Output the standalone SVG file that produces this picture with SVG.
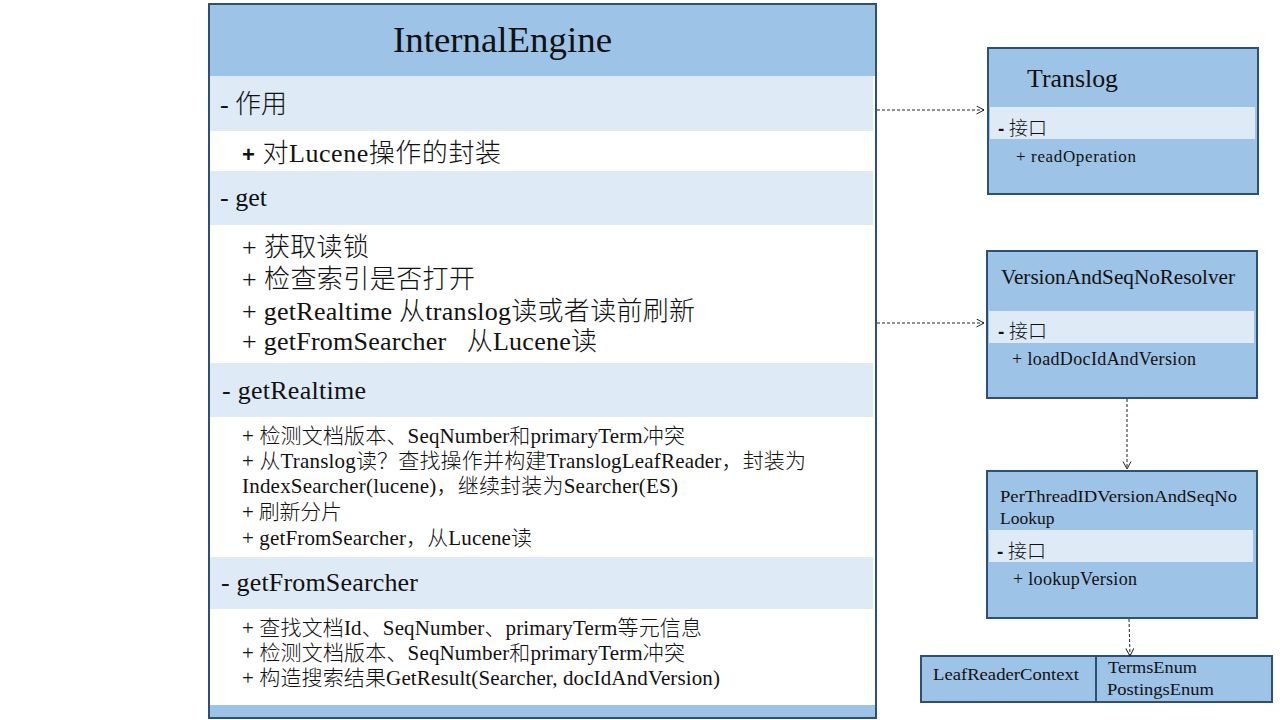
<svg xmlns="http://www.w3.org/2000/svg" width="1280" height="720" viewBox="0 0 1280 720">
<defs>
<style>
.t{font-family:"Liberation Serif","Noto Sans CJK SC",serif;fill:#111;font-weight:300;}
.l{font-size:26px;}
.s{font-size:21px;}
.b{font-family:"Liberation Sans","Noto Sans CJK SC",sans-serif;font-weight:bold;}
.box{stroke:#2E5077;stroke-width:2;}
.hdr{fill:#9DC3E6;}
.band{fill:#DEEBF7;}
.conn{fill:none;stroke:#222;stroke-width:1;stroke-dasharray:3,2;}
</style>
<marker id="arr" markerUnits="userSpaceOnUse" markerWidth="10" markerHeight="10" refX="8" refY="4.5" orient="auto">
<path d="M0.5,0.5 L8,4.5 L0.5,8.5" fill="none" stroke="#222" stroke-width="1"/>
</marker>
</defs>
<rect width="1280" height="720" fill="#fff"/>

<g id="InternalEngine">
<rect class="box" x="209" y="4" width="667" height="714" fill="#fff"/>
<rect class="hdr" x="210" y="5" width="665" height="71"/>
<rect class="band" x="210" y="76" width="663" height="55"/>
<rect class="band" x="210" y="171" width="663" height="54"/>
<rect class="band" x="210" y="363" width="663" height="54"/>
<rect class="band" x="210" y="557" width="663" height="52"/>
<rect class="hdr" x="210" y="705" width="665" height="12"/>
<text class="t" x="393" y="52" font-size="36" textLength="219" lengthAdjust="spacingAndGlyphs">InternalEngine</text>
<text class="t l" x="220" y="113" textLength="67" lengthAdjust="spacing">- 作用</text>
<text class="t l" x="242" y="162" textLength="259" lengthAdjust="spacing"><tspan class="b" font-size="22">+</tspan> 对Lucene操作的封装</text>
<text class="t l" x="220" y="206" textLength="47" lengthAdjust="spacing">- get</text>
<text class="t l" x="242" y="256" textLength="127" lengthAdjust="spacing">+ 获取读锁</text>
<text class="t l" x="242" y="288" textLength="233" lengthAdjust="spacing">+ 检查索引是否打开</text>
<text class="t l" x="242" y="320" textLength="453" lengthAdjust="spacing">+ getRealtime 从translog读或者读前刷新</text>
<text class="t l" x="242" y="350" textLength="355" lengthAdjust="spacing" xml:space="preserve">+ getFromSearcher   从Lucene读</text>
<text class="t l" x="222" y="399" textLength="144" lengthAdjust="spacing">- getRealtime</text>
<text class="t s" x="242" y="443" textLength="443" lengthAdjust="spacing">+ 检测文档版本、SeqNumber和primaryTerm冲突</text>
<text class="t s" x="242" y="468" textLength="564" lengthAdjust="spacing">+ 从Translog读？查找操作并构建TranslogLeafReader，封装为</text>
<text class="t s" x="242" y="493" textLength="436" lengthAdjust="spacing">IndexSearcher(lucene)，继续封装为Searcher(ES)</text>
<text class="t s" x="242" y="519" textLength="100" lengthAdjust="spacing">+ 刷新分片</text>
<text class="t s" x="242" y="545" textLength="290" lengthAdjust="spacing">+ getFromSearcher，从Lucene读</text>
<text class="t l" x="221" y="591" textLength="197" lengthAdjust="spacing">- getFromSearcher</text>
<text class="t s" x="242" y="635" textLength="460" lengthAdjust="spacing">+ 查找文档Id、SeqNumber、primaryTerm等元信息</text>
<text class="t s" x="242" y="660" textLength="443" lengthAdjust="spacing">+ 检测文档版本、SeqNumber和primaryTerm冲突</text>
<text class="t s" x="242" y="685" textLength="478" lengthAdjust="spacing">+ 构造搜索结果GetResult(Searcher, docIdAndVersion)</text>
</g>

<g id="Translog">
<rect class="box hdr" x="988" y="48" width="270" height="146"/>
<rect class="band" x="990" y="107" width="265" height="32"/>
<text class="t" x="1027" y="87" font-size="25" textLength="91" lengthAdjust="spacingAndGlyphs">Translog</text>
<text class="t" x="998" y="135" font-size="19"><tspan class="b">-</tspan> 接口</text>
<text class="t" x="1016" y="162" font-size="17" textLength="120" lengthAdjust="spacing">+ readOperation</text>
</g>

<g id="VersionAndSeqNoResolver">
<rect class="box hdr" x="987" y="251" width="270" height="147"/>
<rect class="band" x="989" y="311" width="265" height="32"/>
<text class="t" x="1001" y="284" font-size="20" textLength="234" lengthAdjust="spacingAndGlyphs">VersionAndSeqNoResolver</text>
<text class="t" x="998" y="338" font-size="19"><tspan class="b">-</tspan> 接口</text>
<text class="t" x="1012" y="365" font-size="18" textLength="184" lengthAdjust="spacing">+ loadDocIdAndVersion</text>
</g>

<g id="PerThreadIDVersionAndSeqNoLookup">
<rect class="box hdr" x="987" y="471" width="270" height="147"/>
<rect class="band" x="989" y="530" width="264" height="32"/>
<text class="t" x="1000" y="502" font-size="17.5" textLength="237" lengthAdjust="spacingAndGlyphs">PerThreadIDVersionAndSeqNo</text>
<text class="t" x="1000" y="524" font-size="17.5">Lookup</text>
<text class="t" x="997" y="558" font-size="19"><tspan class="b">-</tspan> 接口</text>
<text class="t" x="1013" y="585" font-size="18" textLength="124" lengthAdjust="spacing">+ lookupVersion</text>
</g>

<g id="LeafReaderContext">
<rect class="box hdr" x="921" y="656" width="351" height="46"/>
<line x1="1096" y1="656" x2="1096" y2="702" stroke="#2E5077" stroke-width="2"/>
<text class="t" x="933" y="680" font-size="17" textLength="146" lengthAdjust="spacingAndGlyphs">LeafReaderContext</text>
<text class="t" x="1108" y="673" font-size="17" textLength="89" lengthAdjust="spacingAndGlyphs">TermsEnum</text>
<text class="t" x="1107" y="695" font-size="17" textLength="107" lengthAdjust="spacingAndGlyphs">PostingsEnum</text>
</g>

<g id="connectors">
<line class="conn" x1="877" y1="110" x2="984" y2="110" marker-end="url(#arr)"/>
<line class="conn" x1="877" y1="323" x2="984" y2="323" marker-end="url(#arr)"/>
<line class="conn" x1="1127" y1="399" x2="1127" y2="469" marker-end="url(#arr)"/>
<line class="conn" x1="1129" y1="619" x2="1130" y2="656" marker-end="url(#arr)"/>
</g>
</svg>
